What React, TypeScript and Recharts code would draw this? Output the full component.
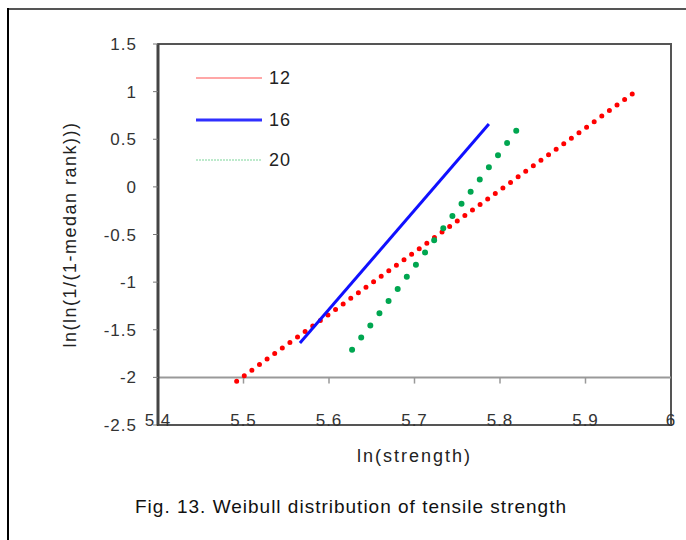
import { LineChart, Line, XAxis, YAxis, ReferenceLine, ReferenceArea } from 'recharts';

// fitted lines (ln(strength) vs ln(ln(1/(1-median rank))))
const seriesNames = ['12', '16', '20'];
const xs12 = [5.492, 5.957];
const ys12 = [-2.04, 0.99];
const xs16 = [5.566, 5.787];
const ys16 = [-1.64, 0.66];
const xs20 = [5.627, 5.82];
const ys20 = [-1.71, 0.6];

const xTicks = [5.4, 5.5, 5.6, 5.7, 5.8, 5.9, 6];
const yTicks = [1.5, 1, 0.5, 0, -0.5, -1, -1.5, -2, -2.5];
const xTickMarks = [5.5, 5.6, 5.7, 5.8, 5.9];

const toPoints = (xs: number[], ys: number[]) => xs.map((x, i) => ({ x, y: ys[i] }));

const font = '"Liberation Sans", Arial, sans-serif';

const legendStyles = [
  { stroke: '#ff8a8a', width: 1.5, dash: undefined },
  { stroke: '#3030ff', width: 3, dash: undefined },
  { stroke: '#a8e4bc', width: 1.5, dash: '2 1' },
];

function LegendBox() {
  return (
    <div style={{ fontFamily: font }}>
      {seriesNames.map((name, i) => (
        <div key={name} style={{ display: 'flex', alignItems: 'center', height: i === 0 ? 44 : 40 }}>
          <svg width={68} height={10}>
            <line x1={0} y1={5} x2={66} y2={5} stroke={legendStyles[i].stroke} strokeWidth={legendStyles[i].width} strokeDasharray={legendStyles[i].dash} />
          </svg>
          <span style={{ fontSize: 18, letterSpacing: 1, color: '#222', marginLeft: 5 }}>{name}</span>
        </div>
      ))}
    </div>
  );
}

function XTick(props: any) {
  const { x, y, payload } = props;
  return (
    <text x={x} y={y - 7} textAnchor="middle" fill="#333" fontSize={17} letterSpacing={1} fontFamily={font}>
      {String(payload.value)}
    </text>
  );
}

export default function App() {
  return (
    <div style={{ position: 'absolute', left: 0, top: 0, width: 686, height: 540, overflow: 'hidden', background: '#fff' }}>
      <div style={{ position: 'absolute', left: 0, top: 0 }}>
        <LineChart width={686} height={540} margin={{ top: 44, right: 15, bottom: 85, left: 40 }}>
          <XAxis
            type="number"
            dataKey="x"
            domain={[5.4, 6]}
            ticks={xTicks}
            axisLine={false}
            tickLine={false}
            tick={<XTick />}
            height={30}
            allowDataOverflow
            label={{ value: 'ln(strength)', position: 'bottom', offset: -6, fill: '#222', fontSize: 18, letterSpacing: 2, fontFamily: font }}
          />
          <YAxis
            type="number"
            dataKey="y"
            domain={[-2.5, 1.5]}
            ticks={yTicks}
            width={118}
            tickSize={5}
            tickMargin={16}
            axisLine={{ stroke: '#444', strokeWidth: 3 }}
            tickLine={{ stroke: '#777' }}
            tick={{ fill: '#333', fontSize: 17, letterSpacing: 1, fontFamily: font }}
            allowDataOverflow
            label={({ viewBox }: any) => (
              <text
                x={viewBox.x + 30}
                y={viewBox.y + viewBox.height / 2}
                transform={`rotate(-90 ${viewBox.x + 30} ${viewBox.y + viewBox.height / 2})`}
                textAnchor="middle"
                dominantBaseline="central"
                fill="#222"
                fontSize={18}
                letterSpacing={1.5}
                fontFamily={font}
              >
                ln(ln(1/(1-medan rank)))
              </text>
            )}
          />
          <ReferenceArea x1={5.4} x2={6} y1={-2.5} y2={1.5} fill="none" stroke="#555" strokeWidth={2} ifOverflow="visible" />
          <ReferenceLine y={-2} stroke="#999" strokeWidth={2} />
          {xTickMarks.map((t) => (
            <ReferenceLine key={t} segment={[{ x: t, y: -2 }, { x: t, y: -2.065 }]} stroke="#999" strokeWidth={1.5} />
          ))}
          <Line
            data={toPoints(xs12, ys12)}
            dataKey="y"
            name={seriesNames[0]}
            stroke="#ff0000"
            strokeWidth={5}
            strokeLinecap="round"
            strokeDasharray="0 9.4"
            dot={false}
            isAnimationActive={false}
          />
          <Line
            data={toPoints(xs16, ys16)}
            dataKey="y"
            name={seriesNames[1]}
            stroke="#1010ff"
            strokeWidth={3}
            dot={false}
            isAnimationActive={false}
          />
          <Line
            data={toPoints(xs20, ys20)}
            dataKey="y"
            name={seriesNames[2]}
            stroke="#00a650"
            strokeWidth={6}
            strokeLinecap="round"
            strokeDasharray="0 15.2"
            dot={false}
            isAnimationActive={false}
          />
        </LineChart>
      </div>
      <div style={{ position: 'absolute', left: 196, top: 56 }}>
        <LegendBox />
      </div>
      <div style={{ position: 'absolute', left: 7, top: 8, width: 700, height: 2, background: '#555' }} />
      <div style={{ position: 'absolute', left: 7, top: 8, width: 2, height: 560, background: '#000' }} />
      <div style={{ position: 'absolute', left: 0, width: 702, top: 496, textAlign: 'center', fontFamily: font, fontSize: 19, letterSpacing: 1, color: '#111' }}>
        Fig. 13. Weibull distribution of tensile strength
      </div>
    </div>
  );
}
